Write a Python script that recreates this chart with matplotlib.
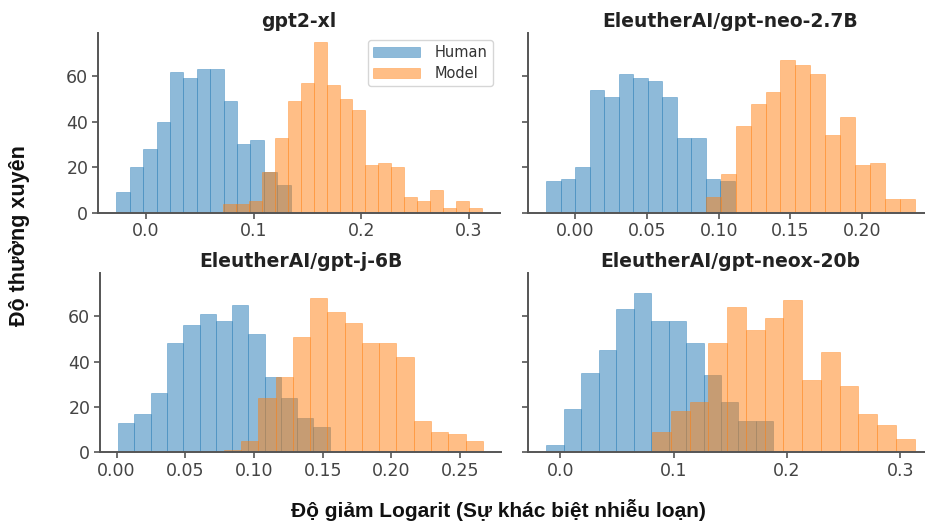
import numpy as np
import matplotlib
matplotlib.use("Agg")
import matplotlib.pyplot as plt

# ---------------- data ----------------
titles = ["gpt2-xl", "EleutherAI/gpt-neo-2.7B", "EleutherAI/gpt-j-6B", "EleutherAI/gpt-neox-20b"]

# histogram ranges (lo, hi) and counts per bin
human_range = [(-0.0277, 0.1343), (-0.0202, 0.1110), (0.0012, 0.1550), (-0.0124, 0.1880)]
model_range = [(0.0717, 0.3118), (0.0911, 0.2366), (0.0780, 0.2664), (0.0809, 0.3127)]

human_counts_gpt2xl = [9, 20, 28, 40, 62, 59, 63, 63, 49, 30, 32, 18, 12]
model_counts_gpt2xl = [4, 4, 5, 18, 33, 49, 57, 75, 56, 50, 45, 21, 22, 20, 7, 5, 10, 2, 5, 2]

human_counts_neo = [14, 15, 20, 54, 51, 61, 59, 58, 51, 33, 33, 15, 14]
model_counts_neo = [7, 17, 38, 48, 53, 67, 65, 61, 34, 42, 21, 22, 6, 6]

human_counts_gptj = [13, 17, 26, 48, 56, 61, 58, 65, 52, 33, 24, 15, 11]
model_counts_gptj = [1, 5, 24, 33, 51, 68, 62, 57, 48, 48, 42, 14, 9, 8, 5]

human_counts_neox = [3, 19, 35, 45, 63, 70, 58, 58, 48, 34, 22, 14, 14]
model_counts_neox = [9, 18, 22, 48, 64, 54, 59, 67, 32, 44, 29, 17, 12, 6]

human_counts = [human_counts_gpt2xl, human_counts_neo, human_counts_gptj, human_counts_neox]
model_counts = [model_counts_gpt2xl, model_counts_neo, model_counts_gptj, model_counts_neox]

xticks = [[0.0, 0.1, 0.2, 0.3],
          [0.00, 0.05, 0.10, 0.15, 0.20],
          [0.00, 0.05, 0.10, 0.15, 0.20, 0.25],
          [0.0, 0.1, 0.2, 0.3]]
xtick_fmt = ["{:.1f}", "{:.2f}", "{:.2f}", "{:.1f}"]
yticks = [0, 20, 40, 60]

series_labels = ["Human", "Model"]
xlabel = "Độ giảm Logarit (Sự khác biệt nhiễu loạn)"
ylabel = "Độ thường xuyên"

# ---------------- style ----------------
plt.rcParams['font.family'] = ['DejaVu Sans']
BLUE = "#1f77b4"
ORANGE = "#ff7f0e"
SPINE = "#555555"
TICKC = "#444444"

W, H = 925, 528
fig = plt.figure(figsize=(W / 100, H / 100), dpi=100)

# axes boxes in pixels (left, top, right, bottom)
boxes = [(98, 33, 500, 212.7), (528, 33, 933, 212.7),
         (100, 273, 501, 452.3), (528, 273, 933, 452.3)]

axes = []
for i, (l, t, r, b) in enumerate(boxes):
    ax = fig.add_axes([l / W, 1 - b / H, (r - l) / W, (b - t) / H])
    axes.append(ax)

for i, ax in enumerate(axes):
    for counts, rng, col, lab in [(human_counts[i], human_range[i], BLUE, series_labels[0]),
                                  (model_counts[i], model_range[i], ORANGE, series_labels[1])]:
        edges = np.linspace(rng[0], rng[1], len(counts) + 1)
        ax.bar(edges[:-1], counts, width=np.diff(edges), align='edge',
               color=col, alpha=0.5, edgecolor=col, linewidth=0.5, label=lab)
    ax.set_ylim(0, 79)
    ax.set_yticks(yticks)
    ax.set_xticks(xticks[i])
    ax.set_xticklabels([xtick_fmt[i].format(v) for v in xticks[i]])
    ax.set_title(titles[i], fontsize=13.5, fontweight='bold', color='#222222', pad=4.5)
    for s in ['top', 'right']:
        ax.spines[s].set_visible(False)
    for s in ['left', 'bottom']:
        ax.spines[s].set_color(SPINE)
        ax.spines[s].set_linewidth(1.4)
    ax.tick_params(axis='both', labelsize=12.5, colors=SPINE, labelcolor=TICKC,
                   length=4, width=1.2, pad=3)
    if i in (1, 3):
        ax.tick_params(axis='y', labelleft=False)

leg = axes[0].legend(loc='upper right', fontsize=10.5, frameon=True, fancybox=True,
                     framealpha=0.8, edgecolor='#cccccc', handlelength=3.2,
                     labelspacing=0.38, handletextpad=1.0, borderpad=0.35)
for t in leg.get_texts():
    t.set_color('#333333')

fig.text(498 / W, 1 - 510 / H, xlabel, ha='center', va='center', fontsize=15,
         fontweight='bold', family=['Liberation Sans', 'DejaVu Sans'], color='#111111')
fig.text(20 / W, 1 - 236 / H, ylabel, ha='center', va='center', rotation=90,
         fontsize=15.5, fontweight='bold', family=['Liberation Sans', 'DejaVu Sans'],
         color='#111111')

fig.savefig("out.png", dpi=100)
